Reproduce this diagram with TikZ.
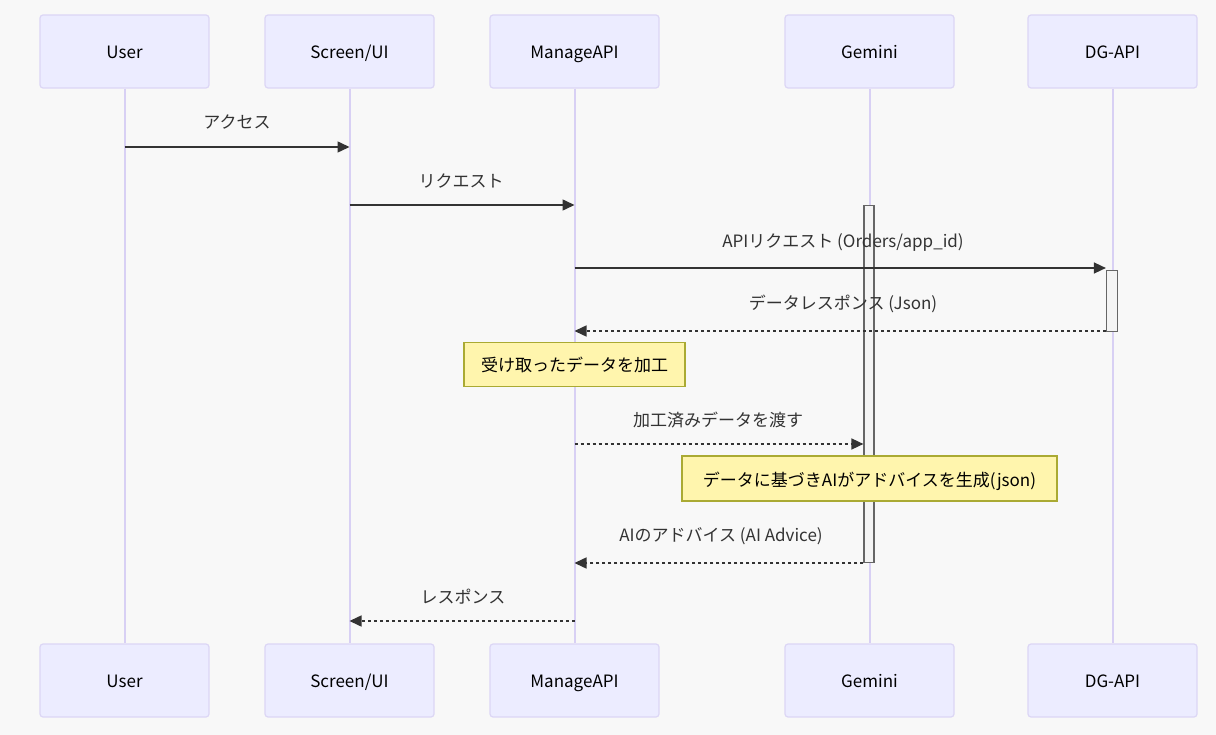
\documentclass[tikz,border=0pt]{standalone}
\usepackage{fontspec}
\setmainfont{Noto Sans CJK JP}
\usetikzlibrary{arrows.meta}
\definecolor{bgc}{HTML}{F8F8F8}
\definecolor{actfill}{HTML}{ECECFF}
\definecolor{actline}{HTML}{DCD6F5}
\definecolor{lifec}{HTML}{D8D0F4}
\definecolor{notefill}{HTML}{FFF5AD}
\definecolor{noteline}{HTML}{AAAA33}
\definecolor{msgc}{HTML}{333333}
\definecolor{actvfill}{HTML}{F4F4F4}
\definecolor{actvline}{HTML}{666666}
\tikzset{
  actor/.style={draw=actline, fill=actfill, line width=1.2pt, rounded corners=3pt,
    minimum width=169pt, minimum height=73pt, inner sep=0pt, text height=14pt, text depth=0pt,
    font=\fontsize{17}{20}\selectfont, text=black},
  lifeline/.style={draw=lifec, line width=2pt},
  msg/.style={draw=msgc, line width=1.5pt, -{Triangle[length=12pt,width=11pt]}},
  reply/.style={msg, dash pattern=on 3pt off 3pt},
  lbl/.style={font=\fontsize{17}{20}\selectfont, text=msgc, inner sep=0pt, text height=15pt, text depth=0pt},
  notebox/.style={draw=noteline, fill=notefill, line width=1.2pt, inner sep=0pt,
    text height=15pt, text depth=0pt, font=\fontsize{17}{20}\selectfont, text=black},
  activation/.style={draw=actvline, fill=actvfill, line width=1.2pt},
}
\begin{document}
\begin{tikzpicture}[x=1pt,y=-1pt]
\fill[bgc] (0,0) rectangle (1216,735);
\useasboundingbox (0,0) rectangle (1216,735);
% actors top
\node[actor] (uT) at (124.5,51.5) {User};
\node[actor] (sT) at (349.5,51.5) {Screen/UI};
\node[actor] (mT) at (574.5,51.5) {ManageAPI};
\node[actor] (gT) at (869.5,51.5) {Gemini};
\node[actor] (dT) at (1112.5,51.5) {DG-API};
% actors bottom
\node[actor] (uB) at (124.5,680.5) {User};
\node[actor] (sB) at (349.5,680.5) {Screen/UI};
\node[actor] (mB) at (574.5,680.5) {ManageAPI};
\node[actor] (gB) at (869.5,680.5) {Gemini};
\node[actor] (dB) at (1112.5,680.5) {DG-API};
% lifelines
\draw[lifeline] (uT.south) -- (uB.north);
\draw[lifeline] (sT.south) -- (sB.north);
\draw[lifeline] (mT.south) -- (mB.north);
\draw[lifeline] (gT.south) -- (gB.north);
\draw[lifeline] (dT.south) -- (dB.north);
% activations
\node[activation, minimum width=10pt, minimum height=357pt, inner sep=0pt, anchor=north] (gA) at (869,205) {};
\node[activation, minimum width=11pt, minimum height=61pt, inner sep=0pt, anchor=north] (dA) at (1112,270) {};
% message end points
\coordinate (m1a) at (uT.south |- 0,147); \coordinate (m1b) at (sT.south |- 0,147);
\coordinate (m2a) at (sT.south |- 0,205); \coordinate (m2b) at (mT.south |- 0,205);
\coordinate (m3a) at (mT.south |- 0,268); \coordinate (m3b) at (dA.north west |- 0,268);
\coordinate (m4a) at (dA.west |- 0,331); \coordinate (m4b) at (mT.south |- 0,331);
\coordinate (m5a) at (mT.south |- 0,444); \coordinate (m5b) at (gA.west |- 0,444);
\coordinate (m6a) at (gA.west |- 0,563); \coordinate (m6b) at (mT.south |- 0,563);
\coordinate (m7a) at (mT.south |- 0,621); \coordinate (m7b) at (sT.south |- 0,621);
% messages
\draw[msg] (m1a) -- (m1b);
\node[lbl] (l1) at (237,121) {アクセス};
\draw[msg] (m2a) -- (m2b);
\node[lbl] (l2) at (461,180) {リクエスト};
\draw[msg] (m3a) -- (m3b);
\node[lbl] (l3) at (843,240) {APIリクエスト (Orders/app\_id)};
\draw[reply] (m4a) -- (m4b);
\node[lbl] (l4) at (843,302) {データレスポンス (Json)};
\node[notebox, minimum width=221pt, minimum height=44pt] (n1) at (574.5,364.5) {受け取ったデータを加工};
\draw[reply] (m5a) -- (m5b);
\node[lbl] (l5) at (718,419) {加工済みデータを渡す};
\node[notebox, minimum width=375pt, minimum height=45pt] (n2) at (869.5,478.5) {データに基づきAIがアドバイスを生成(json)};
\draw[reply] (m6a) -- (m6b);
\node[lbl] (l6) at (721,534) {AIのアドバイス (AI Advice)};
\draw[reply] (m7a) -- (m7b);
\node[lbl] (l7) at (463,596) {レスポンス};
\end{tikzpicture}
\end{document}
